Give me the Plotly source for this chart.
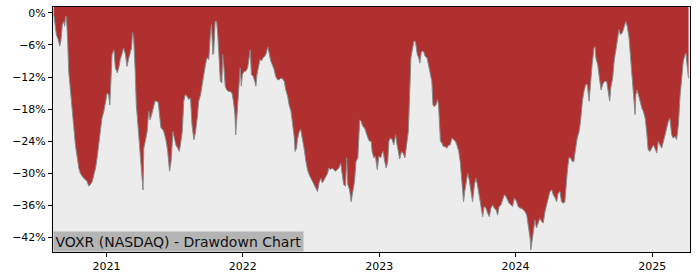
import pandas as pd
import plotly.graph_objects as go

title_text = "VOXR (NASDAQ) - Drawdown Chart"
start_date = "2020-08-01"

# days since start_date
days = [
12,15,19,24,28,31,35,39,41,44,46,49,52,57,61,65,70,74,79,83,88,92,97,101,106,110,115,119,124,128,132,137,141,146,150,155,159,162,165,168,173,177,182,186,190,195,199,204,208,213,217,220,223,226,230,233,238,242,247,251,
253,257,262,266,270,274,279,283,288,292,295,299,304,308,313,317,322,326,331,335,339,344,348,351,356,360,364,369,373,378,382,387,391,396,400,405,409,414,418,422,427,431,434,438,440,444,448,451,454,458,462,464,467,471,475,480,484,489,493,497,
499,504,508,511,514,517,522,526,531,535,538,541,546,550,553,556,559,564,568,572,577,581,585,589,593,597,602,606,611,615,620,624,629,633,638,642,647,651,656,658,662,664,669,673,678,682,687,691,696,700,705,709,714,718,722,727,731,736,740,745,
748,753,757,762,766,771,775,780,784,788,793,796,799,804,808,813,817,821,826,829,831,835,839,844,848,853,857,862,864,869,873,878,882,887,891,894,897,902,906,909,913,918,922,927,931,936,938,943,947,952,956,961,964,968,971,976,980,985,989,992,996,
1002,1006,1011,1015,1020,1024,1027,1030,1035,1039,1042,1045,1047,1051,1055,1060,1064,1069,1073,1078,1082,1087,1091,1096,1100,1105,1109,1112,1116,1120,1124,1129,1133,1138,1142,1146,1151,1155,1160,1164,1169,1173,1178,1182,1187,1191,1196,1200,1204,1209,1213,1218,1222,1227,1231,1236,1240,1245,
1251,1255,1260,1264,1269,1273,1278,1282,1287,1289,1292,1295,1300,1304,1309,1313,1318,1322,1327,1331,1336,1340,1345,1349,1354,1358,1362,1367,1371,1376,1380,1383,1387,1391,1395,1400,1404,1409,1413,1418,1422,1427,1431,1436,1440,1445,1449,1453,1458,1461,1463,1468,1472,1477,1481,1486,
1492,1496,1500,1503,1508,1512,1517,1521,1525,1529,1534,1538,1543,1547,1552,1556,1561,1565,1568,1570,1573,1577,1581,1586,1590,1595,1599,1603,1608,1612,1617,1621,1626,1630,1635,1639,1644,1648,1653,1657,1661,1666,1670,1675,1679,1684,1688,1693,1697,1702,1704,1708,1711,
]

drawdown = [
-0.3,-2.2,-4.1,-5.0,-6.2,-5.3,-2.2,-1.6,-2.5,-0.6,-0.9,-4.7,-10.9,-14.7,-17.2,-20.9,-24.7,-27.1,-29.0,-30.0,-30.6,-30.9,-31.2,-31.5,-32.4,-32.1,-31.5,-30.3,-29.0,-27.1,-24.7,-22.2,-19.7,-18.4,-16.5,-15.0,-15.3,-17.2,-12.8,-7.8,-6.9,-10.3,-11.2,-10.3,-8.7,-7.2,-6.6,-7.8,-10.0,-8.4,-7.2,-6.6,-3.7,-4.7,-10.9,-17.2,-21.5,-25.9,-29.6,-33.1,
-25.3,-24.0,-22.2,-18.4,-20.0,-19.0,-17.2,-16.5,-16.5,-16.8,-19.0,-21.5,-21.8,-22.5,-24.0,-25.9,-29.6,-27.8,-22.2,-23.4,-24.7,-25.3,-25.9,-24.7,-22.2,-16.5,-15.3,-15.6,-16.2,-15.9,-20.9,-23.7,-22.5,-19.7,-16.5,-15.3,-13.4,-11.5,-9.7,-8.4,-8.7,-4.1,-2.2,-7.8,-7.5,-1.6,-1.6,-4.1,-9.0,-12.8,-13.1,-7.8,-9.7,-13.7,-14.4,-14.7,-14.7,-15.0,-16.5,-19.0,
-22.8,-17.2,-13.4,-10.3,-13.7,-11.5,-10.9,-10.9,-10.3,-8.4,-6.9,-11.5,-11.9,-12.8,-13.7,-11.5,-10.3,-8.7,-9.0,-8.4,-8.1,-7.5,-6.4,-7.8,-9.0,-9.7,-10.6,-11.9,-12.5,-12.5,-12.2,-12.3,-12.8,-14.4,-15.6,-17.2,-18.4,-20.6,-23.4,-25.9,-25.3,-23.7,-22.2,-21.8,-23.4,-25.3,-27.8,-29.3,-30.3,-30.9,-31.5,-32.1,-32.8,-33.4,-31.8,-30.9,-31.8,-31.2,-30.6,-30.0,
-29.0,-29.3,-29.0,-29.3,-29.6,-29.3,-29.0,-28.1,-30.3,-32.1,-32.4,-27.1,-32.1,-33.1,-35.3,-33.4,-31.5,-27.8,-27.1,-22.8,-20.0,-20.3,-21.2,-21.5,-22.5,-23.4,-24.0,-24.0,-25.9,-27.1,-26.8,-29.3,-26.8,-27.1,-26.2,-25.9,-27.5,-29.0,-27.8,-24.0,-23.4,-23.7,-24.7,-22.8,-24.7,-26.5,-27.3,-25.9,-26.2,-27.1,-25.3,-22.2,-16.5,-8.4,-7.2,-5.3,-5.3,-7.8,-8.4,-9.4,-7.2,
-7.2,-8.1,-8.4,-9.7,-11.5,-12.8,-17.2,-17.5,-17.2,-16.2,-17.2,-20.9,-24.0,-24.3,-25.0,-25.0,-25.3,-24.7,-24.7,-23.4,-23.7,-24.0,-24.7,-25.9,-27.8,-31.5,-35.3,-33.4,-31.5,-30.0,-31.2,-33.4,-35.3,-32.1,-30.9,-32.1,-34.0,-35.9,-38.1,-36.2,-36.5,-37.4,-38.1,-36.5,-35.9,-36.5,-36.8,-37.8,-36.2,-35.9,-34.9,-34.0,-34.3,-34.9,-35.6,-35.9,-36.2,-34.6,
-35.3,-36.2,-36.5,-36.5,-36.8,-37.1,-37.8,-39.6,-42.1,-44.3,-42.7,-40.9,-38.7,-40.2,-39.0,-38.4,-39.0,-39.3,-37.1,-35.9,-34.6,-33.4,-33.1,-34.0,-34.6,-35.3,-33.7,-33.4,-35.3,-35.6,-35.3,-32.1,-29.3,-27.1,-27.1,-27.8,-27.8,-25.3,-23.4,-22.2,-20.3,-16.5,-14.7,-13.4,-13.4,-16.5,-12.2,-9.7,-6.6,-6.3,-8.4,-9.7,-11.9,-14.4,-13.4,-12.8,
-12.8,-14.7,-16.5,-14.0,-12.2,-9.0,-6.6,-4.7,-3.1,-4.1,-3.7,-2.8,-1.6,-2.5,-4.7,-8.4,-12.2,-16.5,-19.0,-15.3,-14.4,-15.3,-16.5,-17.8,-18.4,-19.7,-22.2,-25.6,-25.9,-25.3,-24.7,-25.3,-26.2,-24.0,-24.7,-25.3,-24.0,-22.8,-21.5,-20.3,-19.7,-22.8,-23.4,-23.1,-23.7,-20.9,-15.9,-11.5,-9.0,-7.8,-7.5,-10.3,-12.2,
]

y_tick_vals = [0, -6, -12, -18, -24, -30, -36, -42]
y_tick_text = ["0%", "\u22126%", "\u221212%", "\u221218%", "\u221224%", "\u221230%", "\u221236%", "\u221242%"]
x_tick_vals = ["2021-01-01", "2022-01-01", "2023-01-01", "2024-01-01", "2025-01-01"]
x_tick_text = ["2021", "2022", "2023", "2024", "2025"]

dates = pd.Timestamp(start_date) + pd.to_timedelta(days, unit="D")

RED = "#b03030"
BG = "#ececec"
y_top, y_bottom = 1.1, -44.7

fig = go.Figure()
fig.add_trace(go.Scatter(x=dates, y=[y_top + 5] * len(dates), mode="lines",
                         line=dict(width=0, color=RED), hoverinfo="skip", showlegend=False))
fig.add_trace(go.Scatter(x=dates, y=drawdown, mode="lines", fill="tonexty",
                         fillcolor=RED, line=dict(color="#8a8a8a", width=1),
                         showlegend=False))

fig.update_layout(
    width=700, height=280,
    margin=dict(l=53, r=10, t=7, b=28),
    paper_bgcolor="white", plot_bgcolor=BG,
    font=dict(family="DejaVu Sans", size=11, color="black"),
    xaxis=dict(type="date",
               range=[dates[0] - pd.Timedelta(days=2), dates[-1] + pd.Timedelta(days=4)],
               tickvals=x_tick_vals, ticktext=x_tick_text,
               showgrid=False, zeroline=False, showline=True, linecolor="black", linewidth=1,
               mirror=True, ticks="outside", ticklen=4, tickcolor="black",
               tickfont=dict(size=11, color="black")),
    yaxis=dict(range=[y_bottom, y_top],
               tickvals=y_tick_vals, ticktext=y_tick_text,
               showgrid=False, zeroline=False, showline=True, linecolor="black", linewidth=1,
               mirror=True, ticks="outside", ticklen=4, tickcolor="black",
               tickfont=dict(size=11, color="black")),
    annotations=[dict(text=title_text, xref="paper", yref="paper", x=0, y=0,
                      xanchor="left", yanchor="bottom", showarrow=False,
                      font=dict(family="DejaVu Sans", size=14, color="#111111"),
                      bgcolor="#b4b4b4", borderpad=1.5)],
)

fig.write_html("out.html")
